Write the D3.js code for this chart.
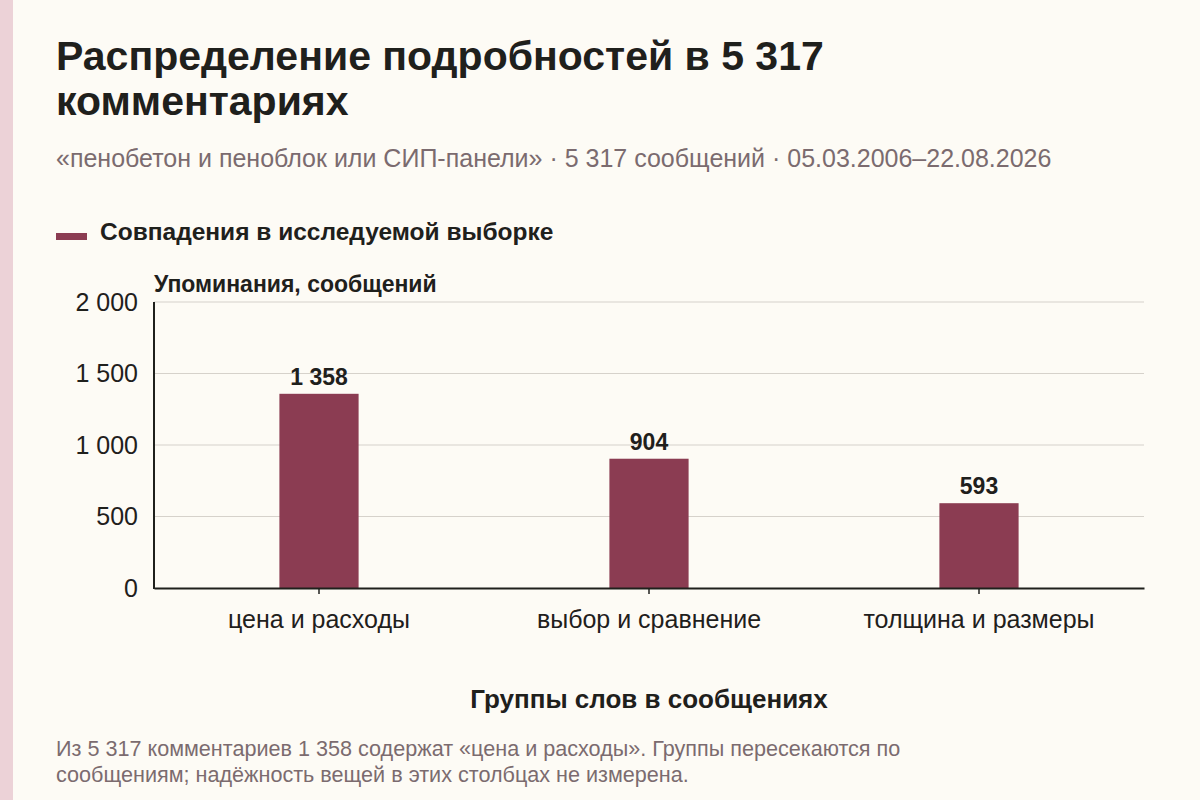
<!DOCTYPE html>
<html>
<head>
<meta charset="utf-8">
<script src="https://cdn.jsdelivr.net/npm/d3@7"></script>
<style>
  html, body { margin: 0; padding: 0; background: #fdfbf5; }
  svg { display: block; font-family: "Liberation Sans", Arial, sans-serif; }
</style>
</head>
<body>
<svg id="chart" width="1200" height="800"></svg>
<script>
// --- Data ---
const categories = ["цена и расходы", "выбор и сравнение", "толщина и размеры"];
const mentions = [1358, 904, 593];
const yTicks = [0, 500, 1000, 1500, 2000];

const TITLE_LINES = ["Распределение подробностей в 5 317", "комментариях"];
const SUBTITLE = "«пенобетон и пеноблок или СИП-панели» · 5 317 сообщений · 05.03.2006–22.08.2026";
const LEGEND_LABEL = "Совпадения в исследуемой выборке";
const Y_TITLE = "Упоминания, сообщений";
const X_TITLE = "Группы слов в сообщениях";
const NOTE_LINES = [
  "Из 5 317 комментариев 1 358 содержат «цена и расходы». Группы пересекаются по",
  "сообщениям; надёжность вещей в этих столбцах не измерена."
];

// --- Helpers ---
const fmt = v => d3.format(",")(v).replace(/,/g, " ");

const svg = d3.select("#chart");
const W = 1200, H = 800;
const margin = { left: 154, right: 1144, top: 302, bottom: 588 };
const BAR = "#8b3c52";
const INK = "#1f201c";
const MUTED = "#7b6b6f";
const FONT = "Liberation Sans, Arial, sans-serif";

svg.append("rect").attr("width", W).attr("height", H).attr("fill", "#fdfbf5");
// strip on the left
svg.append("rect").attr("width", 13).attr("height", H).attr("fill", "#ecd2d7");

// --- Titles ---
svg.selectAll("text.title")
  .data(TITLE_LINES).join("text")
  .attr("class", "title")
  .attr("x", 56).attr("y", (d, i) => 70 + i * 45)
  .attr("font-size", 41).attr("font-weight", 700).attr("fill", INK)
  .text(d => d);

svg.append("text")
  .attr("x", 56).attr("y", 167)
  .attr("font-size", 25).attr("fill", MUTED)
  .text(SUBTITLE);

// legend
svg.append("rect").attr("x", 56).attr("y", 233).attr("width", 31).attr("height", 7).attr("fill", BAR);
svg.append("text")
  .attr("x", 100).attr("y", 240)
  .attr("font-size", 24.5).attr("font-weight", 700).attr("fill", INK)
  .text(LEGEND_LABEL);

// --- Scales ---
const x = d3.scaleBand().domain(categories).range([margin.left, margin.right]).padding(0);
const y = d3.scaleLinear().domain([0, 2000]).range([margin.bottom, margin.top]);
const barW = x.bandwidth() * 0.24;

// gridlines
svg.append("g")
  .selectAll("line").data(yTicks.filter(t => t > 0)).join("line")
  .attr("x1", margin.left).attr("x2", margin.right)
  .attr("y1", d => y(d)).attr("y2", d => y(d))
  .attr("stroke", "#d6d2cb").attr("stroke-width", 1.2);

// y axis labels
const yAxis = svg.append("g")
  .attr("transform", `translate(${margin.left},0)`)
  .call(d3.axisLeft(y).tickValues(yTicks).tickFormat(fmt).tickSize(0).tickPadding(16));
yAxis.select(".domain").remove();
yAxis.selectAll("text")
  .attr("font-family", FONT)
  .attr("font-size", 25).attr("fill", INK);

svg.append("text")
  .attr("x", margin.left).attr("y", 292)
  .attr("font-size", 23).attr("font-weight", 700).attr("fill", INK)
  .text(Y_TITLE);

// bars
svg.append("g")
  .selectAll("rect").data(categories).join("rect")
  .attr("x", (d) => x(d) + x.bandwidth() / 2 - barW / 2)
  .attr("width", barW)
  .attr("y", (d, i) => y(mentions[i]))
  .attr("height", (d, i) => y(0) - y(mentions[i]))
  .attr("fill", BAR);

// value labels
svg.append("g")
  .selectAll("text").data(categories).join("text")
  .attr("x", d => x(d) + x.bandwidth() / 2)
  .attr("y", (d, i) => y(mentions[i]) - 9)
  .attr("text-anchor", "middle")
  .attr("font-size", 23).attr("font-weight", 700).attr("fill", INK)
  .text((d, i) => fmt(mentions[i]));

// x axis
const xAxis = svg.append("g")
  .attr("transform", `translate(0,${margin.bottom})`)
  .call(d3.axisBottom(x).tickSize(6).tickSizeOuter(0).tickPadding(16));
xAxis.select(".domain").attr("stroke", INK).attr("stroke-width", 2);
xAxis.selectAll(".tick line").attr("stroke", INK).attr("stroke-width", 1.5);
xAxis.selectAll("text")
  .attr("font-family", FONT)
  .attr("font-size", 25).attr("fill", INK);

// left axis line
svg.append("line")
  .attr("x1", margin.left).attr("x2", margin.left)
  .attr("y1", margin.top).attr("y2", margin.bottom + 1)
  .attr("stroke", INK).attr("stroke-width", 2);

svg.append("text")
  .attr("x", (margin.left + margin.right) / 2).attr("y", 708)
  .attr("text-anchor", "middle")
  .attr("font-size", 26).attr("font-weight", 700).attr("fill", INK)
  .text(X_TITLE);

// footnote
svg.selectAll("text.note")
  .data(NOTE_LINES).join("text")
  .attr("class", "note")
  .attr("x", 56).attr("y", (d, i) => 756 + i * 26)
  .attr("font-size", 21.6).attr("fill", MUTED)
  .text(d => d);
</script>
</body>
</html>
